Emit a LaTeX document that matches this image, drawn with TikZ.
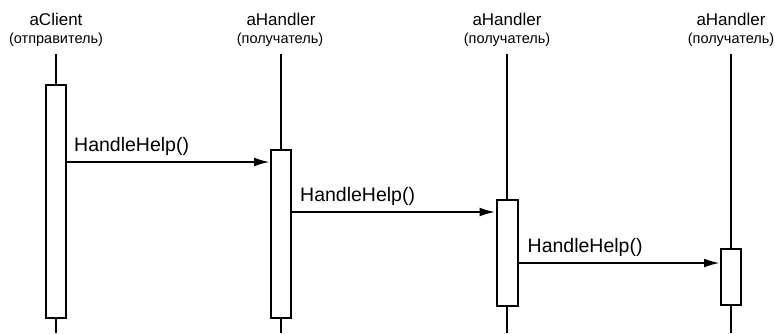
\documentclass[tikz,border=0pt]{standalone}
\usepackage{fontspec}
\setmainfont{Liberation Sans}
\usetikzlibrary{arrows.meta, positioning}

\begin{document}
\begin{tikzpicture}[
                x=1pt, y=-1pt,
                obj/.style={font=\fontsize{17}{17}\selectfont, inner sep=0pt},
                role/.style={font=\fontsize{14.5}{14.5}\selectfont, inner sep=0pt},
                life/.style={line width=2.2pt},
                act/.style={rectangle, draw, line width=2pt, fill=white, minimum width=20pt, inner sep=0pt},
                msg/.style={line width=2.4pt, -{Latex[length=16pt, width=9pt]}},
                lbl/.style={font=\fontsize{19.5}{19.5}\selectfont, inner sep=0pt, anchor=south west}
            ]
                \useasboundingbox (0,0) rectangle (775,333);
                % headings
                \node[obj] (client) at (56,19) {aClient};
                \node[role] (clientrole) at (56,40) {(отправитель)};
                \node[obj] (handler1) at (281,19) {aHandler};
                \node[role] (handler1role) at (280,40) {(получатель)};
                \node[obj] (handler2) at (507,19) {aHandler};
                \node[role] (handler2role) at (507,40) {(получатель)};
                \node[obj] (handler3) at (731,19) {aHandler};
                \node[role] (handler3role) at (731,40) {(получатель)};
                % lifelines
                \foreach \i/\x in {1/56, 2/281, 3/507, 4/731} {
                    \coordinate (top\i) at (\x,54);
                    \coordinate (bot\i) at (\x,333);
                    \draw[life] (top\i) -- (bot\i);
                }
                % activations
                \node[act, minimum height=233pt] (act1) at (56,201.5) {};
                \node[act, minimum height=168pt] (act2) at (281,234) {};
                \node[act, minimum width=21pt, minimum height=106pt] (act3) at (507,253) {};
                \node[act, minimum height=56pt] (act4) at (731,277) {};
                % messages
                \coordinate (m1) at (0,162);
                \coordinate (m2) at (0,212);
                \coordinate (m3) at (0,263);
                \draw[msg] (act1.east |- m1) -- node[lbl, pos=0, xshift=6pt, yshift=5pt] {HandleHelp()} (act2.west |- m1);
                \draw[msg] (act2.east |- m2) -- node[lbl, pos=0, xshift=7pt, yshift=5pt] {HandleHelp()} (act3.west |- m2);
                \draw[msg] (act3.east |- m3) -- node[lbl, pos=0, xshift=8pt, yshift=5pt] {HandleHelp()} (act4.west |- m3);
            \end{tikzpicture}
\end{document}
